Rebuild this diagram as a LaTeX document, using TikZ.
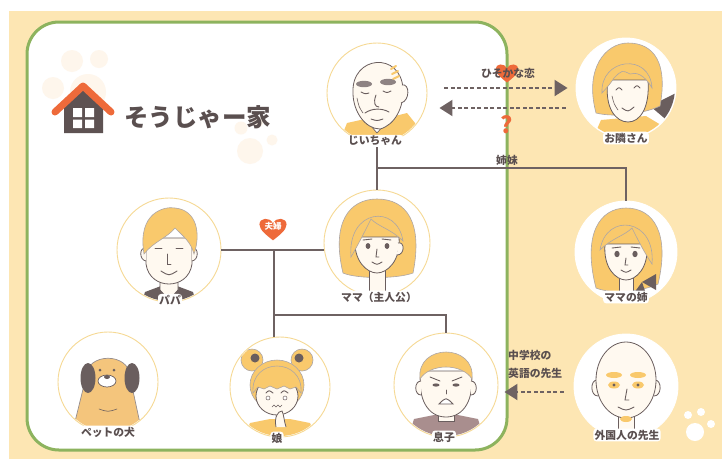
\documentclass[tikz,border=0pt]{standalone}
\usepackage{fontspec}
\newfontfamily\jp{Noto Sans CJK JP}
\usetikzlibrary{arrows.meta,calc}

\definecolor{bgbeige}{HTML}{FDE6B3}
\definecolor{framegreen}{HTML}{8DB35E}
\definecolor{linkgray}{HTML}{6E6262}
\definecolor{textgray}{HTML}{5A4F4F}
\definecolor{accent}{HTML}{EE6A3A}
\definecolor{hair}{HTML}{F9C96C}
\definecolor{skin}{HTML}{FFF9F0}
\definecolor{ink}{HTML}{6A5E5E}
\definecolor{ringc}{HTML}{F6D994}
\definecolor{pawc}{HTML}{FEF6EC}
\definecolor{tan}{HTML}{F4C57C}
\definecolor{mauve}{HTML}{A98E8E}
\definecolor{brow}{HTML}{8E8383}
\definecolor{housegray}{HTML}{5E5252}

\tikzset{
  portrait/.style={circle, minimum size=#1, inner sep=0pt, fill=white, draw=ringc, line width=0.9pt},
  outportrait/.style={portrait=#1, draw=white},
  namelabel/.style={font=\jp\bfseries\fontsize{10.8}{13}\selectfont, text=textgray,
    fill=white, rounded corners=3pt, inner sep=1.2pt},
  notelabel/.style={font=\jp\bfseries\fontsize{10.8}{18}\selectfont, text=textgray, inner sep=0pt},
  link/.style={draw=linkgray, line width=2pt},
  dasharrow/.style={draw=linkgray, line width=2pt, dash pattern=on 4pt off 2.5pt,
    -{Triangle[length=13pt,width=16pt]}},
  skinpart/.style={fill=skin, draw=ink, line width=0.8pt},
  hairpart/.style={fill=hair, draw=ink!55, line width=0.6pt},
  inkline/.style={draw=ink, line width=0.9pt, line cap=round},
  heart/.pic={\fill[accent] (0,10) .. controls (-5,6) and (-12,1) .. (-12,-4)
      .. controls (-12,-10) and (-3,-11) .. (0,-5)
      .. controls (3,-11) and (12,-10) .. (12,-4)
      .. controls (12,1) and (5,6) .. cycle;},
}

\begin{document}
\begin{tikzpicture}[x=1pt,y=-1pt]
\useasboundingbox (0,0) rectangle (722,459);
\fill[white] (0,0) rectangle (722,459);
\fill[bgbeige] (9,11) rectangle (722,459);

% family frame
\draw[framegreen, line width=3pt, fill=white, rounded corners=32pt] (27,22) rectangle (507,450);

% paw prints
\fill[pawc] (72,61) circle (11) (99,59) circle (9) (53,88) circle (11) (88,92) circle (18);
\fill[pawc] (241,128) circle (6.5) (258,122) circle (5.5) (272,140) circle (5.5) (250,151) circle (13);
\fill[white] (695,432) circle (9) (688,415) circle (4) (701,412) circle (4) (711,424) circle (4);

% title with house icon
\fill[housegray] (64,133) -- (64,104) -- (83,88) -- (103,104) -- (103,133) -- cycle;
\fill[white] (73,108) rectangle (82,117) (85,108) rectangle (94,117)
             (73,119.5) rectangle (82,128) (85,119.5) rectangle (94,128);
\draw[accent, line width=7pt, line cap=round, line join=round] (55,112) -- (83,86) -- (111,112);
\node[font=\jp\bfseries\fontsize{24.5}{26}\selectfont, text=textgray, anchor=west, inner sep=0pt]
  (title) at (124,117) {そうじゃー家};

% portraits
\node[portrait=100] (jii) at (377,93) {};
\node[outportrait=100] (tonari) at (626,88) {};
\node[portrait=106] (mama) at (377,243) {};
\node[portrait=104] (papa) at (169,250) {};
\node[outportrait=102] (ane) at (626,252) {};
\node[portrait=100] (dog) at (108,382) {};
\node[portrait=100] (musume) at (280,387) {};
\node[portrait=104] (musuko) at (446,385) {};
\node[outportrait=104] (sensei) at (626,386) {};

% grandfather
\begin{scope}[shift={(jii.center)}]
  \clip (0,0) circle (49);
  \fill[hair] (-40,55) -- (-30,30) -- (-12,26) -- (0,40) -- (14,24) -- (30,20) -- (50,45) -- (50,55) -- cycle;
  \draw[inkline, line width=0.6pt] (-12,26) -- (0,40) -- (14,24);
  \draw[skinpart] (-24,0) .. controls (-26,-38) and (24,-42) .. (26,-4)
     .. controls (27,14) and (18,32) .. (3,36) .. controls (-12,36) and (-24,18) .. cycle;
  \draw[skinpart] (25,-8) .. controls (33,-10) and (33,8) .. (24,10);
  \draw[hair, line width=2pt, line cap=round] (14,-24) -- (19,-27) (15,-19) -- (21,-22) (16,-14) -- (22,-17);
  \fill[brow] (-13,-9) ellipse (8 and 3.2);
  \fill[brow] (11,-11) ellipse (8 and 3.2);
  \draw[inkline] (-16,-1) .. controls (-12,1) .. (-8,0);
  \draw[inkline] (6,-2) .. controls (10,0) .. (14,-2);
  \draw[inkline] (-1,2) .. controls (-4,10) and (-2,14) .. (2,14);
  \draw[inkline] (-12,20) .. controls (-5,15) and (5,15) .. (12,19);
  \draw[inkline] (-6,26) .. controls (0,28) .. (6,26);
  \draw[inkline, line width=0.6pt] (-20,5) .. controls (-18,14) .. (-14,20);
\end{scope}

% neighbour
\begin{scope}[shift={(tonari.center)}]
  \clip (0,0) circle (49);
  \fill[hair] (-35,55) -- (-25,32) -- (20,28) -- (40,40) -- (45,55) -- cycle;
  \fill[ink] (24,18) -- (50,5) -- (50,40) -- cycle;
  \draw[hairpart] (-30,25) .. controls (-42,-20) and (-20,-45) .. (2,-45)
     .. controls (28,-45) and (42,-25) .. (34,18) .. controls (20,25) and (-10,30) .. cycle;
  \draw[skinpart] (-18,-8) .. controls (-22,20) and (-10,34) .. (2,34)
     .. controls (14,34) and (24,20) .. (22,-8) -- cycle;
  \draw[hairpart] (-24,5) .. controls (-26,-30) and (24,-36) .. (26,0)
     .. controls (18,-14) and (10,-16) .. (4,-14) .. controls (-4,-18) .. (-12,-10)
     .. controls (-16,-4) .. (-24,5) -- cycle;
  \draw[inkline] (-10,2) .. controls (-7,-1) .. (-4,2);
  \draw[inkline] (8,0) .. controls (11,-3) .. (14,0);
  \draw[inkline] (-4,20) .. controls (2,24) .. (8,19);
  \draw[inkline, line width=0.6pt] (-14,8) .. controls (-12,16) .. (-8,22);
\end{scope}

% mother
\begin{scope}[shift={(mama.center)}]
  \clip (0,0) circle (52);
  \draw[hairpart] (-34,30) .. controls (-46,-20) and (-28,-44) .. (0,-44)
     .. controls (30,-44) and (46,-20) .. (36,30) .. controls (20,36) and (-20,36) .. cycle;
  \draw[skinpart] (-8,22) -- (-8,54) -- (8,54) -- (8,22);
  \draw[skinpart] (-22,-6) .. controls (-24,18) and (-10,30) .. (0,30)
     .. controls (10,30) and (24,18) .. (22,-6) -- cycle;
  \draw[skinpart] (21,0) .. controls (28,-2) and (28,12) .. (20,12);
  \draw[hairpart] (-26,14) .. controls (-30,-34) and (20,-40) .. (26,-2)
     .. controls (14,-14) and (2,-16) .. (-6,-24) .. controls (-12,-12) and (-18,0) .. cycle;
  \fill[ink] (-9,3) ellipse (2.4 and 3) (10,3) ellipse (2.4 and 3);
  \draw[inkline] (-14,-3) -- (-5,-4) (5,-4) -- (14,-3);
  \draw[inkline] (0,6) -- (-1,14) -- (2,14);
  \draw[inkline] (-5,19) .. controls (0,22) .. (5,19);
\end{scope}

% father
\begin{scope}[shift={(papa.center)}]
  \clip (0,0) circle (51);
  \fill[ink] (-30,60) -- (-24,42) -- (-8,36) -- (8,36) -- (24,42) -- (30,60) -- cycle;
  \draw[skinpart] (-9,22) -- (-9,40) -- (0,50) -- (9,40) -- (9,22);
  \draw[skinpart] (-23,-12) -- (-23,14) .. controls (-21,28) and (-10,34) .. (0,34)
     .. controls (10,34) and (21,28) .. (23,14) -- (23,-12) -- cycle;
  \draw[skinpart] (-23,-2) .. controls (-30,-3) and (-30,10) .. (-23,11);
  \draw[skinpart] (23,-2) .. controls (30,-3) and (30,10) .. (23,11);
  \draw[hairpart] (-25,4) .. controls (-32,-38) and (-4,-44) .. (6,-42)
     .. controls (28,-40) and (32,-16) .. (25,4) .. controls (22,-8) and (14,-14) .. (6,-22)
     .. controls (-2,-12) and (-16,-8) .. (-25,4) -- cycle;
  \draw[inkline] (-14,-2) -- (-7,-2) (7,-2) -- (14,-2);
  \draw[inkline] (-2,4) -- (-2,14) -- (2,14);
  \draw[inkline] (-8,21) .. controls (0,26) .. (8,21);
\end{scope}

% mother's sister
\begin{scope}[shift={(ane.center)}]
  \clip (0,0) circle (50);
  \draw[hairpart] (-30,36) .. controls (-44,-18) and (-26,-44) .. (0,-44)
     .. controls (28,-44) and (44,-18) .. (32,32) .. controls (16,40) and (-16,42) .. cycle;
  \draw[skinpart] (-7,22) -- (-7,52) -- (7,52) -- (7,22);
  \draw[skinpart] (-21,-8) .. controls (-23,16) and (-10,28) .. (0,28)
     .. controls (10,28) and (23,16) .. (21,-8) -- cycle;
  \draw[hairpart] (26,12) .. controls (30,-34) and (-20,-40) .. (-26,-2)
     .. controls (-14,-14) and (-2,-16) .. (6,-24) .. controls (12,-12) and (18,0) .. cycle;
  \fill[ink] (-9,2) ellipse (2.6 and 3.2) (9,2) ellipse (2.6 and 3.2);
  \draw[inkline] (-14,-4) -- (-5,-5) (5,-5) -- (14,-4);
  \draw[inkline] (0,6) -- (-1,13) -- (2,13);
  \draw[inkline] (-5,18) .. controls (0,21) .. (5,18);
  \fill[ink] (16,30) -- (30,22) -- (30,38) -- cycle;
  \fill[ink] (16,30) -- (8,41) -- (20,42) -- cycle;
\end{scope}

% dog
\begin{scope}[shift={(dog.center)}]
  \clip (0,0) circle (49);
  \draw[fill=tan, draw=ink!70, line width=0.7pt] (-38,60) -- (-22,-5)
     .. controls (-22,-30) and (22,-30) .. (22,-5) -- (36,60) -- cycle;
  \fill[ink] (-20,-4) ellipse (7.5 and 15);
  \fill[ink] (24,-4) ellipse (7.5 and 15);
  \draw[fill=white, draw=ink, line width=0.7pt] (-1,-1) ellipse (9 and 6);
  \fill[ink] (-1,-5) ellipse (3 and 2);
  \fill[ink] (-8,-12) circle (1.5) (6,-12) circle (1.5);
  \draw[inkline, line width=0.6pt] (-9,27) .. controls (0,30) .. (9,27);
\end{scope}

% daughter
\begin{scope}[shift={(musume.center)}]
  \clip (0,0) circle (49);
  \fill[hair] (-40,60) -- (-30,36) -- (-10,32) -- (10,32) -- (30,36) -- (40,60) -- cycle;
  \draw[hairpart] (-28,-27) circle (11);
  \draw[hairpart] (22,-27) circle (11);
  \draw[hairpart] (-3,-2) ellipse (27 and 25);
  \draw[skinpart] (-3,9) ellipse (21 and 19);
  \draw[hairpart] (-27,6) .. controls (-30,-30) and (24,-30) .. (21,6) -- (16,0) -- (10,2)
     -- (4,-1) -- (-3,2) -- (-10,-1) -- (-16,2) -- (-22,0) -- cycle;
  \fill[ink] (-25,-29) circle (4.5);
  \fill[ink] (19,-29) circle (4.5);
  \draw[inkline] (-14,6) .. controls (-11,3) .. (-7,6);
  \draw[inkline] (1,6) .. controls (4,3) .. (8,6);
  \draw[draw=ink, line width=0.5pt, fill=white] (-12,11) circle (2) (5,11) circle (2);
  \draw[inkline, line width=0.6pt] (-8,20) -- (-6,18) -- (-4,20) -- (-2,18) -- (0,20) -- (2,18);
  \draw[skinpart] (-4,40) .. controls (-6,30) and (-2,24) .. (2,24) .. controls (4,28) and (4,34) .. (6,40);
\end{scope}

% son
\begin{scope}[shift={(musuko.center)}]
  \clip (0,0) circle (51);
  \fill[mauve] (-40,60) -- (-32,34) -- (-12,30) -- (12,30) -- (32,34) -- (40,60) -- cycle;
  \draw[skinpart] (-8,24) -- (-8,36) -- (8,36) -- (8,24);
  \draw[skinpart] (-25,-14) .. controls (-29,14) and (-18,32) .. (0,32)
     .. controls (18,32) and (29,14) .. (25,-14) -- cycle;
  \draw[skinpart] (-25,-4) .. controls (-32,-4) and (-32,10) .. (-25,10);
  \draw[skinpart] (25,-4) .. controls (32,-4) and (32,10) .. (25,10);
  \draw[hairpart] (-26,-6) .. controls (-30,-42) and (30,-42) .. (26,-6)
     .. controls (16,-22) and (-16,-22) .. cycle;
  \draw[inkline] (-16,-8) -- (-6,-4) (6,-4) -- (16,-8);
  \fill[ink] (-10,0) ellipse (3.5 and 1.6) (10,0) ellipse (3.5 and 1.6);
  \draw[inkline, line width=0.6pt] (0,5) -- (0,9);
  \draw[inkline, fill=white] (-7,19) .. controls (0,12) .. (7,19) -- cycle;
\end{scope}

% teacher
\begin{scope}[shift={(sensei.center)}]
  \clip (0,0) circle (51);
  \draw[skinpart] (-8,26) -- (-8,54) -- (8,54) -- (8,26);
  \draw[skinpart] (-29,-6) .. controls (-36,-6) and (-36,10) .. (-28,10);
  \draw[skinpart] (29,-6) .. controls (36,-6) and (36,10) .. (28,10);
  \draw[skinpart] (0,-6) ellipse (30 and 38);
  \fill[hair] (-12,-11) ellipse (8 and 3) (12,-11) ellipse (8 and 3);
  \fill[hair] (-12,-1) ellipse (6 and 3.5) (12,-1) ellipse (6 and 3.5);
  \fill[ink] (-12,-1) circle (1.6) (12,-1) circle (1.6);
  \draw[inkline] (1,3) -- (-1,14) -- (3,14);
  \draw[inkline] (-8,21) .. controls (0,25) .. (8,21);
  \fill[hair] (0,33) ellipse (6 and 3);
\end{scope}

% name labels
\node[namelabel] (jiiL) at (375,141) {じいちゃん};
\node[namelabel] (tonariL) at (626,138) {お隣さん};
\node[namelabel] (mamaL) at (379,297) {ママ（主人公）};
\node[namelabel] (papaL) at (170,300) {パパ};
\node[namelabel] (aneL) at (626,297) {ママの姉};
\node[namelabel] (dogL) at (108,432) {ペットの犬};
\node[namelabel] (musumeL) at (277,438) {娘};
\node[namelabel] (musukoL) at (444,437) {息子};
\node[namelabel] (senseiL) at (627,435) {外国人の先生};

% family lines
\coordinate (sisY) at (0,168);
\coordinate (fufu) at (274,250);
\coordinate (kidY) at (0,315);
\draw[link] (jiiL.south -| jii.center) -- (mama.north);
\draw[link] (jii.center |- sisY) -| (ane.north);
\draw[link] (papa.east |- fufu) -- (fufu -| mama.west);
\draw[link] (fufu) -- (fufu |- musume.north);
\draw[link] (fufu |- kidY) -| (musuko.north);

\node[notelabel] (shimai) at (507,160) {姉妹};
\pic[scale=1.13] at (273,229) {heart};
\node[font=\jp\bfseries\fontsize{8.5}{9}\selectfont, text=white, inner sep=0pt] (fufuL) at (273,226) {夫婦};

% relations outside the family
\pic[scale=0.95] at (507,73) {heart};
\node[notelabel] (koi) at (508,73) {ひそかな恋};
\draw[dasharrow] ($(jii.east |- tonari.west)+(17,0)$) -- ($(tonari.west)+(-8,0)$);
\draw[dasharrow] ($(tonari.west)+(-10,20)$) -- ($(jii.east |- tonari.west)+(12,20)$);
\node[font=\jp\bfseries\fontsize{23}{23}\selectfont, text=accent, inner sep=0pt] (question) at (507,125) {?};

\node[notelabel, align=left, anchor=west] (eigo) at (508,364) {中学校の\\英語の先生};
\coordinate (arrY) at ($(sensei.west)+(0,6)$);
\draw[dasharrow] ($(arrY)+(-10,0)$) -- ($(musuko.east |- arrY)+(6,0)$);
\end{tikzpicture}
\end{document}
